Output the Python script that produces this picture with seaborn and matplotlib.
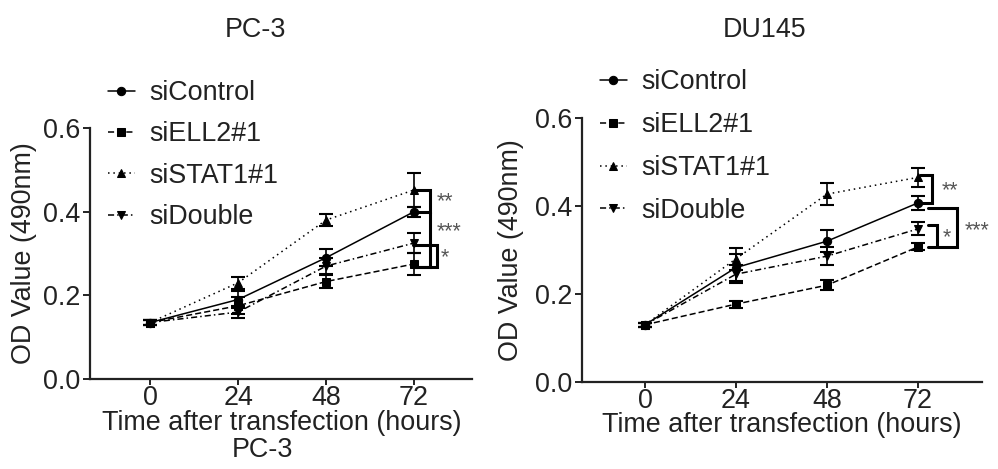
import matplotlib
matplotlib.use("Agg")
import matplotlib.pyplot as plt
import seaborn as sns
import pandas as pd

# values
times = [0, 24, 48, 72]
groups = ["siControl", "siELL2#1", "siSTAT1#1", "siDouble"]

pc3_ctrl = [0.135, 0.19, 0.29, 0.40]
pc3_ell2 = [0.135, 0.175, 0.233, 0.275]
pc3_stat1 = [0.135, 0.23, 0.38, 0.452]
pc3_double = [0.135, 0.16, 0.27, 0.325]
pc3_ctrl_err = [0.005, 0.02, 0.02, 0.012]
pc3_ell2_err = [0.005, 0.02, 0.015, 0.027]
pc3_stat1_err = [0.005, 0.015, 0.015, 0.04]
pc3_double_err = [0.005, 0.015, 0.02, 0.025]

du_ctrl = [0.13, 0.26, 0.32, 0.407]
du_ell2 = [0.13, 0.177, 0.22, 0.307]
du_stat1 = [0.13, 0.28, 0.427, 0.465]
du_double = [0.13, 0.245, 0.286, 0.348]
du_ctrl_err = [0.005, 0.03, 0.025, 0.015]
du_ell2_err = [0.005, 0.008, 0.012, 0.008]
du_stat1_err = [0.005, 0.025, 0.025, 0.022]
du_double_err = [0.005, 0.02, 0.02, 0.015]

sns.set_style("ticks")
plt.rcParams["font.family"] = ["Liberation Sans", "DejaVu Sans"]
fs = 19.4
txt = "#222222"

markers = {"siControl": "o", "siELL2#1": "s", "siSTAT1#1": "^", "siDouble": "v"}
dashes = {"siControl": "", "siELL2#1": (4, 2), "siSTAT1#1": (1, 2.5), "siDouble": (4, 2, 1, 2)}
pal = {g: "black" for g in groups}


def make_df(vals):
    rows = []
    for g, v in zip(groups, vals):
        for t, y in zip(times, v):
            rows.append({"time": t, "od": y, "group": g})
    return pd.DataFrame(rows)


fig = plt.figure(figsize=(9.98, 4.69), dpi=100)
W, H = 998, 469


def px(x, y):
    return x / W, 1 - y / H


ax1 = fig.add_axes([90 / W, 1 - 379 / H, 382 / W, 251 / H])
ax2 = fig.add_axes([582 / W, 1 - 382 / H, 400 / W, 264 / H])

panels = [
    (ax1, [pc3_ctrl, pc3_ell2, pc3_stat1, pc3_double],
     [pc3_ctrl_err, pc3_ell2_err, pc3_stat1_err, pc3_double_err], (-16.4, 87.8)),
    (ax2, [du_ctrl, du_ell2, du_stat1, du_double],
     [du_ctrl_err, du_ell2_err, du_stat1_err, du_double_err], (-16.6, 88.9)),
]

for ax, vals, errs, xl in panels:
    df = make_df(vals)
    sns.lineplot(data=df, x="time", y="od", hue="group", style="group",
                 markers=markers, dashes=dashes, palette=pal, ax=ax,
                 markersize=6, linewidth=1.1, markeredgecolor="black")
    for v, e in zip(vals, errs):
        ax.errorbar(times, v, yerr=e, fmt="none", ecolor="black",
                    elinewidth=1.2, capsize=5, capthick=1.5)
    ax.set_xlim(*xl)
    ax.set_ylim(0, 0.6)
    ax.set_xticks(times)
    ax.set_yticks([0.0, 0.2, 0.4, 0.6])
    ax.set_yticklabels(["0.0", "0.2", "0.4", "0.6"])
    sns.despine(ax=ax)
    for s in ["left", "bottom"]:
        ax.spines[s].set_linewidth(1.6)
        ax.spines[s].set_color("#222222")
    ax.tick_params(axis="both", labelsize=fs, colors=txt, width=1.4)
    ax.tick_params(axis="y", length=5, pad=2)
    ax.tick_params(axis="x", length=4, pad=0)
    ax.set_xlabel("Time after transfection (hours)", fontsize=fs, color=txt)
    ax.set_ylabel("OD Value (490nm)", fontsize=fs, color=txt)
    ax.get_legend().remove()

ax1.xaxis.set_label_coords(0.503, -0.122)
ax2.xaxis.set_label_coords(0.5, -0.115)
ax1.yaxis.set_label_coords(-0.14, 0.5)
ax2.yaxis.set_label_coords(-0.145, 0.5)

leg_kw = dict(frameon=False, fontsize=fs, handlelength=1.0, handletextpad=0.55,
              borderpad=0, borderaxespad=0, loc="upper left", labelcolor=txt)
h1, l1 = ax1.get_legend_handles_labels()
fig.legend(h1, l1, bbox_to_anchor=px(108, 80), labelspacing=0.57, **leg_kw)
h2, l2 = ax2.get_legend_handles_labels()
fig.legend(h2, l2, bbox_to_anchor=px(600, 69), labelspacing=0.63, **leg_kw)

# titles and the extra caption
fig.text(*px(255, 30), "PC-3", fontsize=fs, color=txt, ha="center", va="center")
fig.text(*px(765, 30), "DU145", fontsize=fs, color=txt, ha="center", va="center")
fig.text(*px(262, 450), "PC-3", fontsize=fs, color=txt, ha="center", va="center")

# significance brackets
bk = dict(color="black", lw=2.2, clip_on=False, solid_joinstyle="miter")
star = dict(fontsize=fs * 0.8, color="#555555", ha="center", va="center")

# PC-3
ax1.plot([71.7, 76.4, 76.4, 71.7], [0.452, 0.452, 0.40, 0.40], **bk)
ax1.plot([76.4, 76.4, 71.7], [0.40, 0.268, 0.268], **bk)
ax1.plot([71.7, 78.3, 78.3, 71.7], [0.32, 0.32, 0.268, 0.268], **bk)
ax1.text(80.5, 0.425, "**", **star)
ax1.text(81.5, 0.353, "***", **star)
ax1.text(80.5, 0.29, "*", **star)

# DU145
ax2.plot([72.6, 75.7, 75.7, 72.6], [0.47, 0.47, 0.407, 0.407], **bk)
ax2.plot([74.7, 82.3, 82.3, 74.7], [0.395, 0.395, 0.307, 0.307], **bk)
ax2.plot([74.7, 77.0, 77.0], [0.357, 0.357, 0.307], **bk)
ax2.text(80.5, 0.435, "**", **star)
ax2.text(87.6, 0.343, "***", **star)
ax2.text(79.7, 0.328, "*", **star)

fig.savefig("out.png", dpi=100)
